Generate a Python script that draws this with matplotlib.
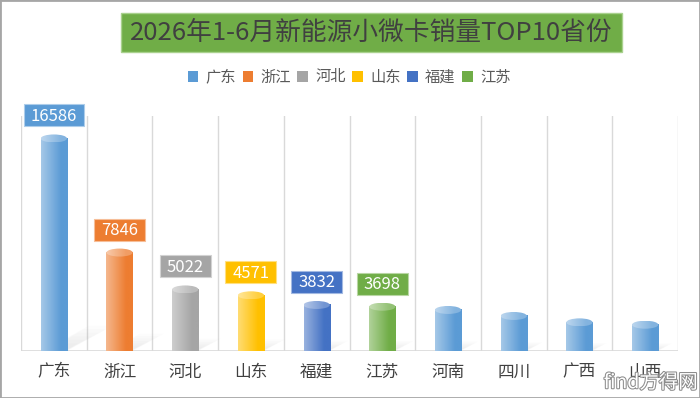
import numpy as np
import matplotlib
matplotlib.use("Agg")
import matplotlib.pyplot as plt
import matplotlib.transforms as mtransforms
import matplotlib.patheffects as pe
from matplotlib.patches import Rectangle, Ellipse, Polygon, Patch
from matplotlib.colors import to_rgb

plt.rcParams['font.family'] = ['Noto Sans CJK SC', 'DejaVu Sans']

# chart data
title = "2026年1-6月新能源小微卡销量TOP10省份"
provinces = ["广东", "浙江", "河北", "山东", "福建", "江苏", "河南", "四川", "广西", "山西"]
sales = [16586, 7846, 5022, 4571, 3832, 3698, 3450, 2990, 2500, 2320]
bar_colors = ["#5B9BD5", "#ED7D31", "#A5A5A5", "#FFC000", "#4472C4", "#70AD47",
              "#5B9BD5", "#5B9BD5", "#5B9BD5", "#5B9BD5"]
n_labelled = 6  # only the first six get a value box and a legend entry

W, H = 700, 398
YMAX = 18000
AX_H = 235  # plot height in px
BAR_W = 0.4
ELL_PX = 8  # height of the cylinder cap in px


def blend(c, t):
    '''mix colour c towards white by t'''
    r = np.array(to_rgb(c))
    return r + (1 - r) * t


def hgrad(c, t_left, t_right, n=64):
    '''horizontal gradient, light on the left, full colour from ~75% on'''
    s = np.clip(np.linspace(0, 1, n) / 0.75, 0, 1)
    cols = [blend(c, t_left + (t_right - t_left) * v) for v in s]
    return np.array(cols)[None, :, :]


fig = plt.figure(figsize=(W / 100, H / 100), dpi=100)
fig.patch.set_facecolor("white")
ax = fig.add_axes([21 / W, 47 / H, 657 / W, AX_H / H])
ax.set_xlim(-0.5, len(provinces) - 0.5)
ax.set_ylim(0, YMAX)
for s in ax.spines.values():
    s.set_visible(False)
ax.set_yticks([])
ax.set_xticks(range(len(provinces)))
ax.set_xticklabels(provinces, fontsize=12, color="#404040")
ax.tick_params(axis='x', length=0, pad=9)

# vertical category gridlines and baseline
for x in np.arange(-0.5, len(provinces), 1):
    ax.axvline(x, color="#d9d9d9", lw=1, zorder=0)
ax.axhline(0, color="#d9d9d9", lw=1.2, zorder=1)

eh = ELL_PX * YMAX / AX_H  # cap height in data units

for i, v in enumerate(sales):
    c = bar_colors[i]
    # soft shadow falling to the upper right
    h_px = v / YMAX * AX_H
    L = min(0.25 * h_px, 40) + 6
    strans = fig.dpi_scale_trans + mtransforms.ScaledTranslation(i, 0, ax.transData)
    for k in range(6):
        f = 1 - k * 0.14
        dx, dy = L * f / 100, 0.55 * L * f / 100
        x0, x1 = -0.11 + k * 0.01, 0.13 - k * 0.005
        poly = Polygon([(x0, 0), (x1, 0), (x1 + dx, dy), (x0 + dx, dy)], closed=True,
                       transform=strans, facecolor="#8c8c8c", edgecolor="none",
                       alpha=0.022, zorder=2)
        ax.add_patch(poly)

    # cylinder body
    ax.imshow(hgrad(c, 0.45, 0.0), extent=[i - BAR_W / 2, i + BAR_W / 2, 0, v - eh / 2],
              aspect='auto', interpolation='bilinear', zorder=3)
    # top cap
    cap = Ellipse((i, v - eh / 2), BAR_W, eh, facecolor="none", edgecolor="none")
    ax.add_patch(cap)
    im = ax.imshow(hgrad(c, 0.6, 0.25), extent=[i - BAR_W / 2, i + BAR_W / 2, v - eh, v],
                   aspect='auto', interpolation='bilinear', zorder=4)
    im.set_clip_path(cap)

ax.set_xlim(-0.5, len(provinces) - 0.5)
ax.set_ylim(0, YMAX)

# value boxes above the first six bars
for i in range(n_labelled):
    v = sales[i]
    s = str(v)
    trans = fig.dpi_scale_trans + mtransforms.ScaledTranslation(i, v, ax.transData)
    bw = 0.15 + 0.09 * len(s)
    ax.add_patch(Rectangle((-bw / 2, 0.08), bw, 0.22, transform=trans,
                           facecolor=bar_colors[i], edgecolor=blend(bar_colors[i], 0.5),
                           lw=0.8, zorder=5, clip_on=False))
    ax.text(0, 0.135, s, transform=trans, ha='center', va='baseline', color="white",
            fontsize=12, zorder=6, clip_on=False)

# legend
handles = [Patch(facecolor=bar_colors[i], edgecolor="none") for i in range(n_labelled)]
fig.legend(handles, provinces[:n_labelled], loc='center', bbox_to_anchor=(349 / W, 1 - 77 / H),
           ncol=n_labelled, frameon=False, fontsize=11, handlelength=0.7, handleheight=0.75,
           handletextpad=0.45, columnspacing=0.45, labelcolor="#595959")

# title in a green box
fig.patches.append(Rectangle((120.7 / W, 1 - 51.7 / H), 501 / W, 38.4 / H,
                             transform=fig.transFigure, facecolor="#70AD47",
                             edgecolor="#A9D18E", lw=1))
fig.text(371 / W, 1 - 32.5 / H, title, ha='center', va='center', fontsize=18.5,
         color="#404040")

# watermark
fig.text(0.997, 0.012, "find方得网", ha='right', va='bottom', fontsize=14, color="white",
         path_effects=[pe.withStroke(linewidth=1.5, foreground="#8c8c8c")])

# outer frame
fig.patches.append(Rectangle((0, 0), 1, 1, transform=fig.transFigure, fill=False,
                             edgecolor="#a6a6a6", lw=2))

fig.savefig("out.png", dpi=100)
